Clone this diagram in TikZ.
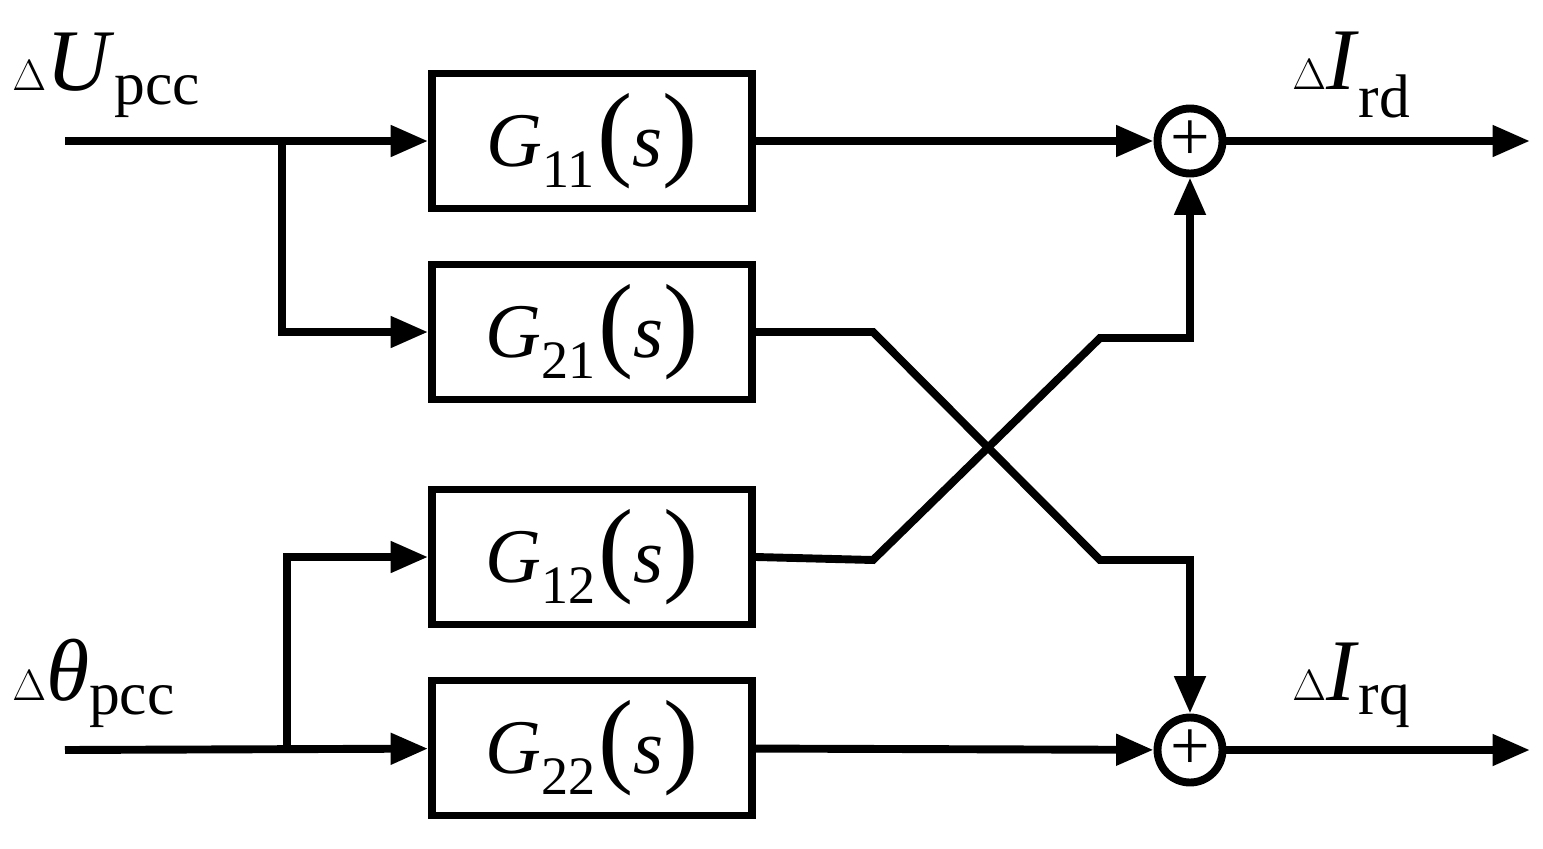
\documentclass[tikz,border=0pt]{standalone}
\usepackage{fontspec}
\setmainfont{Liberation Serif}
\usetikzlibrary{arrows.meta,positioning,calc}
\tikzset{
  block/.style={draw, rectangle, line width=4.5pt, minimum width=6.4cm, minimum height=2.7cm, font=\fontsize{44}{48}\selectfont},
  sumnode/.style={draw, circle, line width=4.5pt, minimum size=1.3cm, inner sep=0pt},
  sig/.style={line width=4.5pt, -{Triangle[length=0.75cm,width=0.6cm]}},
  wire/.style={line width=4.5pt},
  lbl/.style={font=\fontsize{50}{54}\selectfont, inner sep=0pt}
}
\newcommand{\tf}[1]{\textit{G}\textsubscript{#1}\kern1pt{\fontsize{60}{60}\selectfont(}\textit{s}{\fontsize{60}{60}\selectfont)}}
\begin{document}
\begin{tikzpicture}[x=0.02cm,y=-0.02cm]
\useasboundingbox (0,0) rectangle (1543,849);
% blocks
\node [block] (g11) at (592,141) {\tf{11}};
\node [block] (g21) at (592,332) {\tf{21}};
\node [block] (g12) at (592,557) {\tf{12}};
\node [block] (g22) at (592,748) {\tf{22}};
\node [sumnode] (sd) at (1190,141) {};
\node [sumnode] (sq) at (1190,750) {};
\node [font=\fontsize{40}{40}\selectfont] at (sd) {+};
\node [font=\fontsize{40}{40}\selectfont] at (sq) {+};
% inputs and outputs
\coordinate (inu) at (65,141);
\coordinate (inth) at (65,750);
\coordinate (outd) at (1530,141);
\coordinate (outq) at (1530,750);
\node [lbl, anchor=south west] at (12,118) {$\Delta$\textit{U}\textsubscript{pcc}};
\node [lbl, anchor=south west] at (12,728) {$\Delta$\textit{θ}\textsubscript{pcc}};
\node [lbl, anchor=south west] at (1292,118) {$\Delta$\textit{I}\textsubscript{rd}};
\node [lbl, anchor=south west] at (1292,728) {$\Delta$\textit{I}\textsubscript{rq}};
% connections
\draw [sig] (inu) -- (g11);
\draw [sig] (282,141) |- (g21);
\draw [sig] (inth) -- (g22);
\draw [sig] (287,750) |- (g12);
\draw [sig] (g11) -- (sd);
\draw [sig] (g22) -- (sq);
\draw [sig] (g21.east) -- (873,332) -- (1100,560) -| (sq);
\draw [sig] (g12.east) -- (873,560) -- (1100,338) -| (sd);
\draw [sig] (sd) -- (outd);
\draw [sig] (sq) -- (outq);
\end{tikzpicture}
\end{document}
